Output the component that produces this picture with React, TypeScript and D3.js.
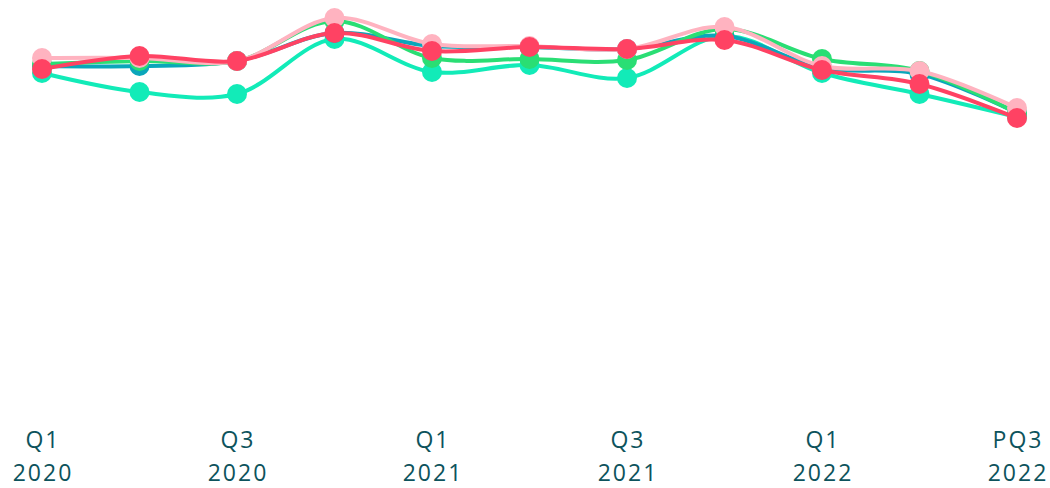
import React from "react";
import * as d3 from "d3";

const quarters = ["Q1 2020", "Q2 2020", "Q3 2020", "Q4 2020", "Q1 2021", "Q2 2021", "Q3 2021", "Q4 2021", "Q1 2022", "Q2 2022", "PQ3 2022"];
const tickLabels = [["Q1", "2020"], ["Q3", "2020"], ["Q1", "2021"], ["Q3", "2021"], ["Q1", "2022"], ["PQ3", "2022"]];
const tickIndexes = [0, 2, 4, 6, 8, 10];

const aquaValues = [82, 77.25, 76.75, 90.5, 82.25, 84, 80.75, 91.25, 82, 76.75, 71];
const blueValues = [83.75, 83.75, 85, 92, 88.75, 88.5, 88, 91.25, 83.25, 81.75, 72];
const greenValues = [84.25, 85, 85, 95, 85.75, 85.5, 85.25, 93, 85.5, 82.5, 72];
const pinkValues = [85.75, 85.75, 85, 95.75, 89.25, 88.75, 88, 93.5, 83.75, 82.5, 73.25];
const redValues = [83, 86.25, 85, 92, 87.5, 88.5, 88, 90.25, 82.75, 79.25, 70.75];

const series = [
  { name: "aqua", values: aquaValues, color: "#12ebb8" },
  { name: "blue", values: blueValues, color: "#0aa6ba" },
  { name: "green", values: greenValues, color: "#2ade74" },
  { name: "pink", values: pinkValues, color: "#ffb3c0" },
  { name: "red", values: redValues, color: "#ff4263" },
];

export default function App() {
  const W = 1050, H = 488;
  const x = d3.scaleLinear().domain([0, quarters.length - 1]).range([42, 1017]);
  const y = d3.scaleLinear().domain([0, 100]).range([401, 1]);
  const line = d3
    .line<number>()
    .x((_, i) => x(i))
    .y((d) => y(d))
    .curve(d3.curveCatmullRom.alpha(0.5));

  return (
    <svg width={W} height={H} style={{ position: "absolute", left: 0, top: 0, display: "block" }}>
      <rect width={W} height={H} fill="#fff" />
      {series.map((s) => (
        <g key={s.name}>
          <path d={line(s.values) || ""} fill="none" stroke={s.color} strokeWidth={4} />
          {s.values.map((v, i) => (
            <circle key={i} cx={x(i)} cy={y(v)} r={10} fill={s.color} />
          ))}
        </g>
      ))}
      {tickIndexes.map((ti, k) => (
        <text
          key={ti}
          x={x(ti)}
          textAnchor="middle"
          fill="#0d535c"
          style={{ fontFamily: "'Open Sans', sans-serif", fontSize: 23, letterSpacing: 2 }}
        >
          <tspan x={x(ti) + 1} y={448}>{tickLabels[k][0]}</tspan>
          <tspan x={x(ti) + 1} y={481}>{tickLabels[k][1]}</tspan>
        </text>
      ))}
    </svg>
  );
}
